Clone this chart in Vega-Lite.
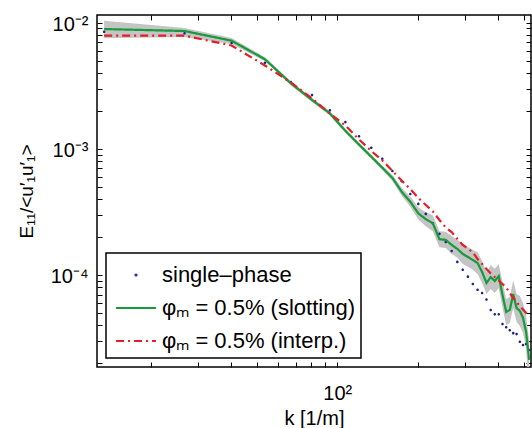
{
  "$schema": "https://vega.github.io/schema/vega-lite/v6.json",
  "width": 434,
  "height": 352,
  "autosize": {"type": "none"},
  "padding": {"left": 97, "top": 15, "right": 1, "bottom": 61},
  "config": {
    "view": {"stroke": "black", "strokeWidth": 1.5},
    "font": "Liberation Sans",
    "axis": {"domainColor": "black", "tickColor": "black", "labelColor": "black", "titleColor": "black", "grid": false, "labelFontSize": 20, "titleFontSize": 20, "titleFontWeight": "normal", "domainWidth": 1.5, "tickWidth": 1, "labelOverlap": false, "labelFlush": false},
    "legend": {"labelFont": "Liberation Sans", "labelFontSize": 22, "labelColor": "black", "strokeWidth": 1.5, "labelLimit": 400}
  },
  "data": {"values": [
    {"k": 13.4, "single": 8.49e-3, "slot": 8.91e-3, "lo": 7.52e-3, "hi": 1.038e-2, "interp": 7.89e-3},
    {"k": 26.8, "single": 8.25e-3, "slot": 8.59e-3, "lo": 7.70e-3, "hi": 9.08e-3, "interp": 7.89e-3},
    {"k": 40.2, "single": 6.9e-3, "slot": 7.2e-3, "lo": 6.78e-3, "hi": 7.56e-3, "interp": 6.60e-3},
    {"k": 53.6, "single": 4.82e-3, "slot": 5.13e-3, "lo": 4.95e-3, "hi": 5.32e-3, "interp": 4.58e-3},
    {"k": 67.0, "single": 3.38e-3, "slot": 3.31e-3, "lo": 3.18e-3, "hi": 3.44e-3, "interp": 3.36e-3},
    {"k": 80.4, "single": 2.67e-3, "slot": 2.44e-3, "lo": 2.35e-3, "hi": 2.54e-3, "interp": 2.51e-3},
    {"k": 93.8, "single": 2.02e-3, "slot": 1.91e-3, "lo": 1.84e-3, "hi": 1.99e-3, "interp": 1.906e-3},
    {"k": 107.2, "single": 1.63e-3, "slot": 1.39e-3, "lo": 1.34e-3, "hi": 1.45e-3, "interp": 1.531e-3},
    {"k": 120.6, "single": 1.26e-3, "slot": 1.08e-3, "lo": 1.04e-3, "hi": 1.12e-3, "interp": 1.186e-3},
    {"k": 134.0, "single": 1.02e-3, "slot": 8.66e-4, "lo": 8.33e-4, "hi": 9.0e-4, "interp": 9.61e-4},
    {"k": 147.4, "single": 8.35e-4, "slot": 7.08e-4, "lo": 6.81e-4, "hi": 7.37e-4, "interp": 8.09e-4},
    {"k": 160.8, "single": 6.67e-4, "slot": 5.88e-4, "lo": 5.57e-4, "hi": 6.21e-4, "interp": 6.68e-4},
    {"k": 174.2, "single": 5.53e-4, "slot": 4.57e-4, "lo": 4.25e-4, "hi": 4.92e-4, "interp": 5.61e-4},
    {"k": 187.6, "single": 4.39e-4, "slot": 3.81e-4, "lo": 3.48e-4, "hi": 4.17e-4, "interp": 4.80e-4},
    {"k": 201.0, "single": 3.66e-4, "slot": 3.08e-4, "lo": 2.76e-4, "hi": 3.44e-4, "interp": 4.08e-4},
    {"k": 214.4, "single": 3.05e-4, "slot": 2.77e-4, "lo": 2.44e-4, "hi": 3.15e-4, "interp": 3.59e-4},
    {"k": 227.8, "single": 2.57e-4, "slot": 2.57e-4, "lo": 2.22e-4, "hi": 2.97e-4, "interp": 3.19e-4},
    {"k": 241.2, "single": 2.12e-4, "slot": 1.92e-4, "lo": 1.66e-4, "hi": 2.22e-4, "interp": 2.73e-4},
    {"k": 254.6, "single": 1.83e-4, "slot": 1.90e-4, "lo": 1.64e-4, "hi": 2.20e-4, "interp": 2.38e-4},
    {"k": 268.0, "single": 1.55e-4, "slot": 1.73e-4, "lo": 1.47e-4, "hi": 2.04e-4, "interp": 2.19e-4},
    {"k": 281.4, "single": 1.27e-4, "slot": 1.61e-4, "lo": 1.37e-4, "hi": 1.90e-4, "interp": 1.93e-4},
    {"k": 294.8, "single": 1.10e-4, "slot": 1.47e-4, "lo": 1.22e-4, "hi": 1.76e-4, "interp": 1.73e-4},
    {"k": 308.2, "single": 9.70e-5, "slot": 1.39e-4, "lo": 1.16e-4, "hi": 1.67e-4, "interp": 1.62e-4},
    {"k": 321.6, "single": 8.49e-5, "slot": 1.315e-4, "lo": 1.10e-4, "hi": 1.58e-4, "interp": 1.51e-4},
    {"k": 335.0, "single": 7.65e-5, "slot": 1.245e-4, "lo": 1.02e-4, "hi": 1.52e-4, "interp": 1.34e-4},
    {"k": 348.4, "single": 7.19e-5, "slot": 1.056e-4, "lo": 8.66e-5, "hi": 1.29e-4, "interp": 1.22e-4},
    {"k": 361.8, "single": 6.39e-5, "slot": 8.64e-5, "lo": 7.08e-5, "hi": 1.05e-4, "interp": 1.115e-4},
    {"k": 375.2, "single": 5.28e-5, "slot": 9.63e-5, "lo": 7.73e-5, "hi": 1.20e-4, "interp": 1.028e-4},
    {"k": 388.6, "single": 4.88e-5, "slot": 8.96e-5, "lo": 7.2e-5, "hi": 1.12e-4, "interp": 9.64e-5},
    {"k": 402.0, "single": 4.88e-5, "slot": 9.81e-5, "lo": 7.88e-5, "hi": 1.22e-4, "interp": 9.04e-5},
    {"k": 415.4, "single": 4.09e-5, "slot": 6.94e-5, "lo": 5.47e-5, "hi": 8.8e-5, "interp": 8.48e-5},
    {"k": 428.8, "single": 3.85e-5, "slot": 5.09e-5, "lo": 4.01e-5, "hi": 6.45e-5, "interp": 7.96e-5},
    {"k": 442.2, "single": 3.65e-5, "slot": 5.28e-5, "lo": 4.16e-5, "hi": 6.7e-5, "interp": 7.20e-5},
    {"k": 455.6, "single": 3.46e-5, "slot": 7.06e-5, "lo": 5.47e-5, "hi": 9.1e-5, "interp": 6.57e-5},
    {"k": 469.0, "single": 3.40e-5, "slot": 5.47e-5, "lo": 4.24e-5, "hi": 7.06e-5, "interp": 6.11e-5},
    {"k": 482.4, "single": 2.96e-5, "slot": 5.19e-5, "lo": 3.95e-5, "hi": 6.82e-5, "interp": 5.68e-5},
    {"k": 495.8, "single": 2.79e-5, "slot": 4.56e-5, "lo": 3.47e-5, "hi": 6.0e-5, "interp": 5.33e-5},
    {"k": 509.2, "single": 2.84e-5, "slot": 3.53e-5, "lo": 2.63e-5, "hi": 4.73e-5, "interp": 5.00e-5},
    {"k": 522.6, "single": 2.54e-5, "slot": 2.12e-5, "lo": 1.0e-5, "hi": 3.0e-5, "interp": 4.73e-5}
  ]},
  "layer": [
    {
      "mark": {"type": "area", "color": "#c4c4c4", "clip": true, "opacity": 1},
      "encoding": {
        "x": {"field": "k", "type": "quantitative", "scale": {"type": "log", "domain": [12.6, 531], "nice": false},
          "axis": {"orient": "bottom", "values": [20, 30, 40, 50, 60, 70, 80, 90, 100, 200, 300, 400, 500], "labelExpr": "datum.value == 100 ? '10²' : ''", "tickSize": -5, "labelPadding": 21, "title": "k [1/m]", "titlePadding": 5, "domain": false}},
        "y": {"field": "lo", "type": "quantitative", "scale": {"type": "log", "domain": [1.865e-5, 1.151e-2], "nice": false},
          "axis": {"orient": "left", "values": [2e-5, 3e-5, 4e-5, 5e-5, 6e-5, 7e-5, 8e-5, 9e-5, 1e-4, 2e-4, 3e-4, 4e-4, 5e-4, 6e-4, 7e-4, 8e-4, 9e-4, 1e-3, 2e-3, 3e-3, 4e-3, 5e-3, 6e-3, 7e-3, 8e-3, 9e-3, 1e-2], "labelExpr": "datum.value == 0.01 ? '10⁻²' : datum.value == 0.001 ? '10⁻³' : datum.value == 0.0001 ? '10⁻⁴' : ''", "tickSize": -5, "labelPadding": 14, "labelOffset": 2, "title": "E₁₁/<u′₁u′₁>", "titleFontSize": 19, "titlePadding": 14, "domain": false}},
        "y2": {"field": "hi"}
      }
    },
    {
      "transform": [{"fold": ["single"], "as": ["series", "E"]}],
      "mark": {"type": "point", "filled": true, "size": 4200, "clip": true, "opacity": 1},
      "encoding": {
        "x": {"field": "k", "type": "quantitative", "scale": {"type": "log", "domain": [12.6, 531], "nice": false},
          "axis": {"orient": "top", "values": [20, 30, 40, 50, 60, 70, 80, 90, 100, 200, 300, 400, 500], "labels": false, "tickSize": -5, "title": null, "domain": false}},
        "y": {"field": "E", "type": "quantitative", "scale": {"type": "log", "domain": [1.865e-5, 1.151e-2], "nice": false},
          "axis": {"orient": "right", "values": [2e-5, 3e-5, 4e-5, 5e-5, 6e-5, 7e-5, 8e-5, 9e-5, 1e-4, 2e-4, 3e-4, 4e-4, 5e-4, 6e-4, 7e-4, 8e-4, 9e-4, 1e-3, 2e-3, 3e-3, 4e-3, 5e-3, 6e-3, 7e-3, 8e-3, 9e-3, 1e-2], "labels": false, "tickSize": -5, "title": null, "domain": false}},
        "color": {"field": "series", "type": "nominal", "scale": {"domain": ["single", "slot", "interp"], "range": ["#1f1f8f", "#179a3a", "#e41e26"]},
          "legend": {"title": null, "orient": "bottom-left", "offset": 9, "labelExpr": "datum.label == 'single' ? 'single–phase' : datum.label == 'slot' ? 'φₘ = 0.5% (slotting)' : 'φₘ = 0.5% (interp.)'", "symbolSize": 900, "symbolStrokeWidth": 2, "strokeColor": "black", "fillColor": "white", "padding": 6, "labelOffset": 10, "rowPadding": 6, "symbolOffset": 8, "labelLimit": 400}},
        "shape": {"field": "series", "type": "nominal", "scale": {"domain": ["single", "slot", "interp"], "range": ["M-0.04,0A0.04,0.04 0 1,0 0.04,0A0.04,0.04 0 1,0 -0.04,0", "M-1.33,0L1.33,0", "M-1.33,0L1.33,0"]},
          "legend": {"title": null, "orient": "bottom-left", "offset": 9, "labelExpr": "datum.label == 'single' ? 'single–phase' : datum.label == 'slot' ? 'φₘ = 0.5% (slotting)' : 'φₘ = 0.5% (interp.)'", "symbolSize": 900, "symbolStrokeWidth": 2, "strokeColor": "black", "fillColor": "white", "padding": 6, "labelOffset": 10, "rowPadding": 6, "symbolOffset": 8, "labelLimit": 400}}
      }
    },
    {
      "transform": [{"fold": ["slot", "interp"], "as": ["series", "E"]}],
      "mark": {"type": "line", "strokeWidth": 2.2, "clip": true},
      "encoding": {
        "x": {"field": "k", "type": "quantitative", "scale": {"type": "log", "domain": [12.6, 531], "nice": false}, "axis": null},
        "y": {"field": "E", "type": "quantitative", "scale": {"type": "log", "domain": [1.865e-5, 1.151e-2], "nice": false}, "axis": null},
        "color": {"field": "series", "type": "nominal", "scale": {"domain": ["single", "slot", "interp"], "range": ["#1f1f8f", "#179a3a", "#e41e26"]},
          "legend": {"title": null, "orient": "bottom-left", "offset": 9, "labelExpr": "datum.label == 'single' ? 'single–phase' : datum.label == 'slot' ? 'φₘ = 0.5% (slotting)' : 'φₘ = 0.5% (interp.)'", "symbolSize": 900, "symbolStrokeWidth": 2, "strokeColor": "black", "fillColor": "white", "padding": 6, "labelOffset": 10, "rowPadding": 6, "symbolOffset": 8, "labelLimit": 400}},
        "strokeDash": {"field": "series", "type": "nominal", "scale": {"domain": ["single", "slot", "interp"], "range": [[1, 0], [1, 0], [8, 4, 2, 4]]},
          "legend": {"title": null, "orient": "bottom-left", "offset": 9, "labelExpr": "datum.label == 'single' ? 'single–phase' : datum.label == 'slot' ? 'φₘ = 0.5% (slotting)' : 'φₘ = 0.5% (interp.)'", "symbolSize": 900, "symbolStrokeWidth": 2, "strokeColor": "black", "fillColor": "white", "padding": 6, "labelOffset": 10, "rowPadding": 6, "symbolOffset": 8, "labelLimit": 400}}
      }
    }
  ],
  "resolve": {"axis": {"x": "independent", "y": "independent"}}
}
